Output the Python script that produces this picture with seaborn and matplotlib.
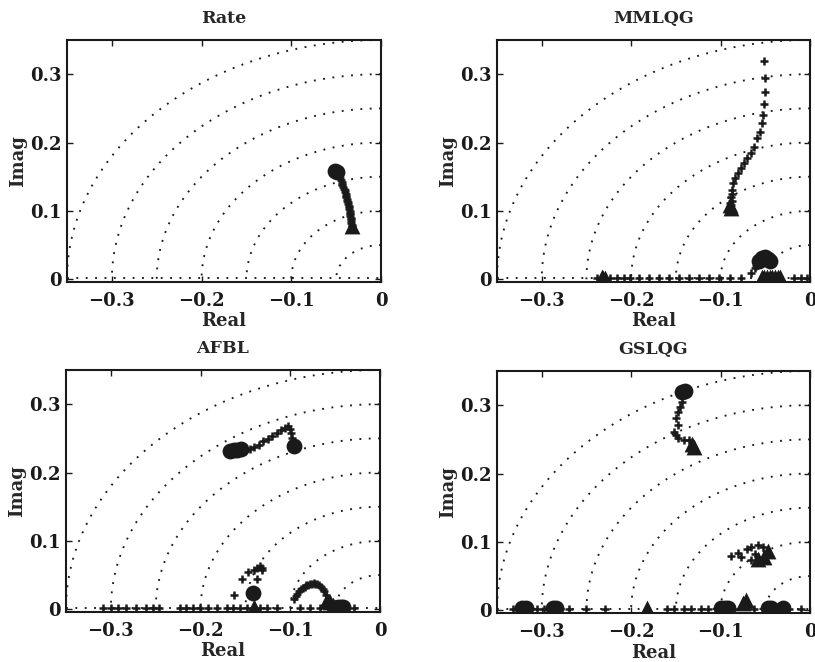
import numpy as np
import pandas as pd
import matplotlib
matplotlib.use("Agg")
import matplotlib.pyplot as plt
import seaborn as sns

# ---------------- data ----------------
panel_titles = ["Rate", "MMLQG", "AFBL", "GSLQG"]
x_ticks = [-0.3, -0.2, -0.1, 0.0]
x_tick_labels = ["\u22120.3", "\u22120.2", "\u22120.1", "0"]
y_ticks = [0.0, 0.1, 0.2, 0.3]
y_tick_labels = ["0", "0.1", "0.2", "0.3"]
grid_radii = [0.05, 0.10, 0.15, 0.20, 0.25, 0.30, 0.35]

# Rate
rate_plus_x = [-0.050, -0.049, -0.048, -0.047, -0.046, -0.045, -0.044, -0.0435, -0.043, -0.042,
               -0.041, -0.0405, -0.040, -0.0395, -0.039, -0.0385, -0.038, -0.0375, -0.037,
               -0.0365, -0.036, -0.0358, -0.0355, -0.035, -0.0347, -0.0343, -0.034, -0.0338,
               -0.0335, -0.0333, -0.033, -0.0328, -0.0325]
rate_plus_y = [0.157, 0.155, 0.1525, 0.150, 0.1475, 0.145, 0.1425, 0.140, 0.1375, 0.135,
               0.1325, 0.130, 0.1275, 0.125, 0.1225, 0.120, 0.1175, 0.115, 0.1125,
               0.110, 0.1075, 0.105, 0.1025, 0.100, 0.0975, 0.095, 0.0925, 0.090,
               0.0875, 0.085, 0.0825, 0.080, 0.078]
rate_circ_x = [-0.051, -0.049]
rate_circ_y = [0.159, 0.157]
rate_tri_x = [-0.032]
rate_tri_y = [0.078]

# MMLQG
mm_plus_x = [-0.0516, -0.0504, -0.0504, -0.0516, -0.0527, -0.054, -0.056, -0.059, -0.0628,
             -0.0665, -0.070, -0.074, -0.0777, -0.081, -0.084, -0.086, -0.087, -0.088,
             -0.089, -0.088, -0.087, -0.087,
             -0.238, -0.2234, -0.216, -0.2085, -0.201, -0.1917, -0.1805, -0.1693, -0.158,
             -0.1469, -0.1357, -0.1244, -0.1132, -0.102, -0.0889, -0.0777,
             -0.0665, -0.062, -0.060, -0.018, -0.0105, -0.003]
mm_plus_y = [0.320, 0.295, 0.274, 0.256, 0.240, 0.228, 0.216, 0.206, 0.194,
             0.184, 0.177, 0.170, 0.1626, 0.155, 0.148, 0.141, 0.131, 0.121,
             0.112, 0.108, 0.115, 0.125,
             0.002, 0.002, 0.002, 0.002, 0.002, 0.002, 0.002, 0.002, 0.002,
             0.002, 0.002, 0.002, 0.002, 0.002, 0.002, 0.002,
             0.0097, 0.016, 0.020, 0.002, 0.002, 0.002]
mm_circ_x = [-0.057, -0.0535, -0.050, -0.047, -0.045]
mm_circ_y = [0.026, 0.031, 0.032, 0.030, 0.027]
mm_tri_x = [-0.088, -0.089, -0.233, -0.231, -0.229,
            -0.054, -0.051, -0.048, -0.045, -0.042, -0.039, -0.036, -0.033]
mm_tri_y = [0.104, 0.108, 0.003, 0.002, 0.002,
            0.003, 0.003, 0.003, 0.003, 0.003, 0.003, 0.003, 0.003]

# AFBL
af_plus_x = [-0.150, -0.145, -0.140, -0.135, -0.130, -0.125, -0.120, -0.115, -0.110,
             -0.106, -0.102, -0.100, -0.099, -0.098,
             -0.163, -0.154, -0.147, -0.141, -0.137, -0.134, -0.132, -0.131, -0.137,
             -0.096, -0.094, -0.092, -0.090, -0.088, -0.086, -0.084, -0.082, -0.080,
             -0.078, -0.076, -0.074, -0.072, -0.070, -0.068, -0.066, -0.064, -0.062, -0.060,
             -0.309, -0.300, -0.2925, -0.283, -0.272, -0.261, -0.253, -0.246, -0.223,
             -0.216, -0.2084, -0.201, -0.1916, -0.182, -0.171, -0.1636, -0.156, -0.1487,
             -0.141, -0.134, -0.126, -0.115, -0.089, -0.078, -0.0665, -0.055, -0.040, -0.029]
af_plus_y = [0.232, 0.235, 0.238, 0.241, 0.246, 0.249, 0.253, 0.2585, 0.262,
             0.265, 0.268, 0.263, 0.2585, 0.250,
             0.021, 0.045, 0.055, 0.058, 0.061, 0.063, 0.060, 0.057, 0.044,
             0.015, 0.019, 0.023, 0.026, 0.029, 0.031, 0.033, 0.035, 0.036,
             0.037, 0.0375, 0.038, 0.0375, 0.037, 0.035, 0.033, 0.030, 0.026, 0.021,
             0.002, 0.002, 0.002, 0.002, 0.002, 0.002, 0.002, 0.002, 0.002,
             0.002, 0.002, 0.002, 0.002, 0.002, 0.002, 0.002, 0.002, 0.002,
             0.002, 0.002, 0.002, 0.002, 0.002, 0.002, 0.002, 0.002, 0.002, 0.002]
af_circ_x = [-0.167, -0.163, -0.159, -0.155, -0.0964, -0.142, -0.047, -0.044, -0.041]
af_circ_y = [0.232, 0.233, 0.233, 0.234, 0.239, 0.0235, 0.004, 0.003, 0.003]
af_tri_x = [-0.059, -0.056, -0.141, -0.052, -0.050]
af_tri_y = [0.014, 0.010, 0.004, 0.006, 0.004]

# GSLQG
gs_plus_x = [-0.1427, -0.145, -0.148, -0.150, -0.148, -0.152, -0.150, -0.148, -0.141, -0.135,
             -0.0884, -0.081, -0.077, -0.070, -0.066, -0.058, -0.062, -0.066, -0.058, -0.053,
             -0.332, -0.313, -0.3056, -0.298, -0.2795, -0.270, -0.251, -0.229, -0.1596,
             -0.152, -0.141, -0.1334, -0.122, -0.1146, -0.0847, -0.0622, -0.024, -0.0098]
gs_plus_y = [0.305, 0.297, 0.290, 0.281, 0.271, 0.261, 0.256, 0.2515, 0.249, 0.249,
             0.080, 0.084, 0.078, 0.090, 0.093, 0.096, 0.082, 0.074, 0.072, 0.092,
             0.002, 0.002, 0.002, 0.002, 0.002, 0.002, 0.002, 0.002, 0.002,
             0.002, 0.002, 0.002, 0.002, 0.002, 0.002, 0.002, 0.002, 0.002]
gs_circ_x = [-0.1427, -0.140, -0.3225, -0.318, -0.287, -0.284, -0.0997, -0.095, -0.092,
             -0.0472, -0.044, -0.030]
gs_circ_y = [0.3198, 0.321, 0.003, 0.003, 0.004, 0.004, 0.004, 0.004, 0.003,
             0.004, 0.004, 0.003]
gs_tri_x = [-0.132, -0.1297, -0.047, -0.051, -0.058, -0.182, -0.0753, -0.0715]
gs_tri_y = [0.243, 0.239, 0.086, 0.078, 0.0756, 0.004, 0.010, 0.0146]

panels = [
    (rate_plus_x, rate_plus_y, rate_circ_x, rate_circ_y, rate_tri_x, rate_tri_y),
    (mm_plus_x, mm_plus_y, mm_circ_x, mm_circ_y, mm_tri_x, mm_tri_y),
    (af_plus_x, af_plus_y, af_circ_x, af_circ_y, af_tri_x, af_tri_y),
    (gs_plus_x, gs_plus_y, gs_circ_x, gs_circ_y, gs_tri_x, gs_tri_y),
]

# ---------------- style ----------------
sns.set_theme(style="white")
plt.rcParams["font.family"] = ["DejaVu Serif"]
plt.rcParams["font.weight"] = "bold"
plt.rcParams["axes.labelweight"] = "bold"
plt.rcParams["axes.titleweight"] = "bold"

fig = plt.figure(figsize=(8.15, 6.62), dpi=100)
W, H = 815, 662
rects = [
    (67, 40, 314, 242),
    (497, 40, 313, 242),
    (66, 370, 314, 242),
    (497, 371, 313, 242),
]

theta = np.linspace(np.pi / 2, np.pi, 200)

for i, (rect, title, data) in enumerate(zip(rects, panel_titles, panels)):
    l, t, w, h = rect
    ax = fig.add_axes([l / W, (H - t - h) / H, w / W, h / H])
    px, py, cx, cy, tx, ty = data

    # constant-frequency dotted arcs
    for r in grid_radii:
        ax.plot(r * np.cos(theta), r * np.sin(theta), color="k",
                linestyle=(0, (1, 4)), lw=1.35, zorder=1)
    ax.plot([-0.35, 0], [0.002, 0.002], color="k", linestyle=(0, (1, 4)), lw=1.35, zorder=1)

    sns.scatterplot(x=px, y=py, ax=ax, marker="+", color="k", s=40,
                    linewidth=1.8, zorder=3)
    sns.scatterplot(x=cx, y=cy, ax=ax, marker="o", color="k", s=130,
                    edgecolor="k", linewidth=0, zorder=4)
    sns.scatterplot(x=tx, y=ty, ax=ax, marker="^", color="k", s=130,
                    edgecolor="k", linewidth=0, zorder=4)

    ax.set_xlim(-0.35, 0.0)
    ax.set_ylim(-0.004, 0.35)
    ax.set_xticks(x_ticks)
    ax.set_xticklabels(x_tick_labels)
    ax.set_yticks(y_ticks)
    ax.set_yticklabels(y_tick_labels)
    ax.tick_params(direction="in", length=4, width=1, top=True, right=True,
                   bottom=True, left=True, labelsize=13, colors="k")
    ax.tick_params(axis="x", pad=7)
    ax.tick_params(axis="y", pad=4)
    for lab in ax.get_xticklabels() + ax.get_yticklabels():
        lab.set_fontweight("bold")
    for sp in ax.spines.values():
        sp.set_linewidth(1.5)
        sp.set_color("k")
    ax.set_title(title, fontsize=12.5, fontweight="bold", pad=12)
    ax.set_xlabel("Real", fontsize=13, fontweight="bold", labelpad=2)
    ax.set_ylabel("Imag", fontsize=13, fontweight="bold")
    ax.yaxis.set_label_coords(-0.128, 0.5)

fig.savefig("out.png", dpi=100)
